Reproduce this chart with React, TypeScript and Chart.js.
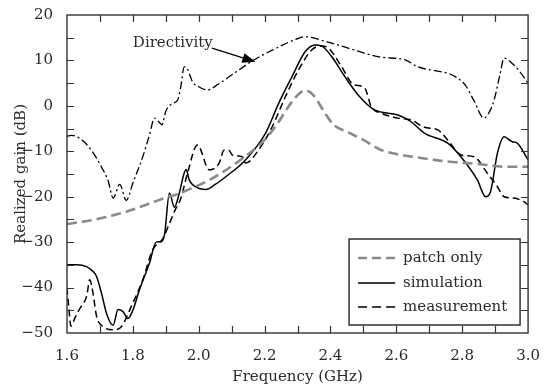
import React, { useEffect, useRef } from 'react';
import { Chart, registerables } from 'chart.js';

Chart.register(...registerables);

const FONT = '"DejaVu Serif", "Liberation Serif", serif';
const INK = '#2a2a2a';

// Directivity (dash-dot)
const dirFreq = [1.6, 1.614, 1.65, 1.68, 1.705, 1.725, 1.74, 1.76, 1.78, 1.8, 1.83, 1.85, 1.866, 1.88, 1.888, 1.9, 1.92, 1.936, 1.945, 1.956, 1.965, 1.981, 2.0, 2.026, 2.06, 2.1, 2.167, 2.23, 2.29, 2.323, 2.38, 2.454, 2.554, 2.625, 2.665, 2.72, 2.756, 2.786, 2.81, 2.836, 2.866, 2.885, 2.897, 2.915, 2.927, 2.957, 2.975, 3.0];
const dirGain = [-6.7, -6.5, -7.8, -10.4, -13.5, -16.5, -20.3, -17.3, -20.8, -17, -11.2, -6.5, -2.7, -3.6, -4.2, -1.2, 0.5, 1.3, 4, 8.6, 8.2, 5.3, 4.2, 3.5, 4.8, 6.8, 10.1, 12.5, 14.5, 15.2, 14.3, 12.7, 10.7, 10.2, 8.6, 7.7, 7.2, 6.1, 4.5, 1.1, -2.7, -1, 1.3, 7, 10.5, 9, 7.5, 5.0];

// Patch only (gray dashed)
const patchFreq = [1.6, 1.68, 1.78, 1.88, 1.94, 2.04, 2.14, 2.2, 2.24, 2.28, 2.31, 2.325, 2.35, 2.38, 2.41, 2.45, 2.5, 2.55, 2.6, 2.65, 2.75, 2.85, 2.93, 3.0];
const patchGain = [-26, -25.1, -23.3, -20.7, -19.3, -16, -11.2, -7.5, -3.8, 0.6, 3, 3.4, 2.2, -1.2, -4.2, -5.7, -7.5, -9.6, -10.6, -11.2, -12.2, -12.8, -13.4, -13.4];

// Simulation (solid)
const simFreq = [1.6, 1.63, 1.659, 1.68, 1.69, 1.705, 1.72, 1.74, 1.755, 1.77, 1.785, 1.8, 1.82, 1.85, 1.871, 1.886, 1.896, 1.911, 1.926, 1.941, 1.955, 1.962, 1.971, 1.99, 2.022, 2.05, 2.082, 2.142, 2.203, 2.243, 2.283, 2.323, 2.353, 2.373, 2.404, 2.444, 2.484, 2.534, 2.605, 2.645, 2.685, 2.756, 2.796, 2.846, 2.871, 2.886, 2.907, 2.927, 2.952, 2.967, 3.0];
const simGain = [-35, -35, -35.4, -36.5, -37.6, -41.3, -45.7, -48.3, -44.8, -45.3, -46.8, -45, -40.5, -34.7, -30, -29.9, -28.4, -19.2, -22.3, -19.2, -15, -14, -16.3, -17.8, -18.4, -17.3, -15.6, -11.9, -6, 0.6, 6.4, 11.9, 13.4, 13.2, 10.8, 6.4, 2.4, -0.9, -2.0, -3.5, -6, -8.2, -11.2, -16.3, -20, -18.9, -10.4, -6.8, -7.9, -8.2, -11.9];

// Measurement (black dashed)
const measFreq = [1.6, 1.605, 1.612, 1.625, 1.64, 1.66, 1.669, 1.679, 1.69, 1.71, 1.74, 1.765, 1.795, 1.83, 1.86, 1.891, 1.911, 1.931, 1.945, 1.966, 1.996, 2.032, 2.062, 2.077, 2.092, 2.102, 2.132, 2.142, 2.182, 2.223, 2.263, 2.303, 2.343, 2.373, 2.394, 2.434, 2.464, 2.474, 2.504, 2.524, 2.554, 2.605, 2.645, 2.685, 2.726, 2.756, 2.796, 2.836, 2.876, 2.907, 2.927, 2.957, 2.987, 3.0];
const measGain = [-40, -44, -48.5, -46.5, -44.5, -41.8, -38.3, -41.3, -46.4, -48.6, -49.3, -48.6, -44.2, -38.3, -31.7, -29.2, -25.9, -22.5, -20.5, -14.8, -8.6, -14.1, -12.6, -9.7, -9.8, -10.8, -11.2, -12.6, -9.7, -4.6, 2.0, 7.9, 12.3, 13.2, 12.7, 8.6, 5, 4.6, 3.9, -0.2, -1.6, -2.7, -3.1, -4.7, -5.3, -7.5, -10.8, -11.2, -14.8, -17.8, -20, -20.3, -21.1, -21.8];

// Axes
const X_MIN = 1.6, X_MAX = 3.0, X_LABEL_STEP = 0.2;
const Y_MIN = -50, Y_MAX = 20, Y_LABEL_STEP = 10;
const xTickMarks = [1.7, 1.8, 1.9, 2.0, 2.1, 2.2, 2.3, 2.4, 2.5, 2.6, 2.7, 2.8, 2.9];
const yTickMarks = [-45, -40, -35, -30, -25, -20, -15, -10, -5, 0, 5, 10, 15];

const seriesNames = ['patch only', 'simulation', 'measurement'];
const annotationText = 'Directivity';
const annotationAt = { x: 1.8, y: 13.8 };
const arrowFrom = { x: 2.04, y: 12.7 };
const arrowTo = { x: 2.172, y: 9.7 };

const zip = (xs: number[], ys: number[]) => xs.map((x, i) => ({ x, y: ys[i] }));

const STYLES = {
  patch: { color: '#8a8a8a', width: 2.6, dash: [10, 5] },
  sim: { color: '#000000', width: 1.5, dash: [] as number[] },
  meas: { color: '#000000', width: 1.5, dash: [7, 4] },
  dir: { color: '#000000', width: 1.3, dash: [8, 3, 2, 3] },
};

const overlayPlugin = {
  id: 'overlay',
  afterDraw(chart: any) {
    const { ctx, chartArea: a, scales } = chart;
    const xs = scales.x, ys = scales.y;
    ctx.save();
    // frame
    ctx.strokeStyle = '#333';
    ctx.lineWidth = 1.4;
    ctx.strokeRect(a.left, a.top, a.right - a.left, a.bottom - a.top);
    // inward ticks
    ctx.lineWidth = 1.2;
    const L = 7;
    ctx.beginPath();
    for (const f of xTickMarks) {
      const px = Math.round(xs.getPixelForValue(f)) + 0.5;
      ctx.moveTo(px, a.bottom); ctx.lineTo(px, a.bottom - L);
      ctx.moveTo(px, a.top); ctx.lineTo(px, a.top + L);
    }
    for (const g of yTickMarks) {
      const py = Math.round(ys.getPixelForValue(g)) + 0.5;
      ctx.moveTo(a.left, py); ctx.lineTo(a.left + L, py);
      ctx.moveTo(a.right, py); ctx.lineTo(a.right - L, py);
    }
    ctx.stroke();

    // annotation
    ctx.fillStyle = INK;
    ctx.font = `15px ${FONT}`;
    ctx.textAlign = 'left';
    ctx.textBaseline = 'middle';
    ctx.fillText(annotationText, xs.getPixelForValue(annotationAt.x), ys.getPixelForValue(annotationAt.y));
    const x0 = xs.getPixelForValue(arrowFrom.x), y0 = ys.getPixelForValue(arrowFrom.y);
    const x1 = xs.getPixelForValue(arrowTo.x), y1 = ys.getPixelForValue(arrowTo.y);
    const ang = Math.atan2(y1 - y0, x1 - x0);
    const hl = 13, hw = 5;
    const bx = x1 - hl * Math.cos(ang), by = y1 - hl * Math.sin(ang);
    ctx.strokeStyle = '#000';
    ctx.lineWidth = 1.3;
    ctx.beginPath();
    ctx.moveTo(x0, y0); ctx.lineTo(bx, by);
    ctx.stroke();
    ctx.fillStyle = '#000';
    ctx.beginPath();
    ctx.moveTo(x1, y1);
    ctx.lineTo(bx + hw * Math.sin(ang), by - hw * Math.cos(ang));
    ctx.lineTo(bx - hw * Math.sin(ang), by + hw * Math.cos(ang));
    ctx.closePath();
    ctx.fill();

    // legend
    const bl = a.right - 179, bt = a.bottom - 94, br = a.right - 8, bb = a.bottom - 8;
    ctx.fillStyle = '#fff';
    ctx.fillRect(bl, bt, br - bl, bb - bt);
    ctx.strokeStyle = '#222';
    ctx.lineWidth = 1.4;
    ctx.strokeRect(bl, bt, br - bl, bb - bt);
    const styles = [STYLES.patch, STYLES.sim, STYLES.meas];
    const rows = [19, 44, 68];
    seriesNames.forEach((name, i) => {
      const y = bt + rows[i];
      const s = styles[i];
      ctx.strokeStyle = s.color;
      ctx.lineWidth = s.width;
      ctx.setLineDash(s.dash.length ? [9, 5] : []);
      ctx.beginPath();
      ctx.moveTo(bl + 9, y); ctx.lineTo(bl + 46, y);
      ctx.stroke();
      ctx.setLineDash([]);
      ctx.fillStyle = INK;
      ctx.font = `15px ${FONT}`;
      ctx.textAlign = 'left';
      ctx.textBaseline = 'middle';
      ctx.fillText(name, bl + 54, y);
    });
    ctx.restore();
  },
};

export default function App() {
  const ref = useRef<HTMLCanvasElement | null>(null);
  useEffect(() => {
    if (!ref.current) return;
    const mk = (label: string, xs: number[], ys: number[], s: any) => ({
      label,
      data: zip(xs, ys),
      borderColor: s.color,
      borderWidth: s.width,
      borderDash: s.dash,
      pointRadius: 0,
      fill: false,
      cubicInterpolationMode: 'monotone' as const,
    });
    const chart = new Chart(ref.current, {
      type: 'line',
      data: {
        datasets: [
          mk('Directivity', dirFreq, dirGain, STYLES.dir),
          mk(seriesNames[0], patchFreq, patchGain, STYLES.patch),
          mk(seriesNames[2], measFreq, measGain, STYLES.meas),
          mk(seriesNames[1], simFreq, simGain, STYLES.sim),
        ],
      },
      options: {
        responsive: false,
        animation: false,
        layout: { padding: { top: 15, right: 15, left: 0, bottom: 0 } },
        plugins: { legend: { display: false }, tooltip: { enabled: false } },
        scales: {
          x: {
            type: 'linear',
            min: X_MIN,
            max: X_MAX,
            grid: { display: false },
            border: { display: false },
            ticks: {
              stepSize: X_LABEL_STEP,
              padding: 6,
              color: INK,
              maxRotation: 0,
              autoSkip: false,
              font: { family: FONT, size: 15 },
              callback: (v: any) => Number(v).toFixed(1),
            },
            title: {
              display: true,
              text: 'Frequency (GHz)',
              color: INK,
              font: { family: FONT, size: 15 },
              padding: { top: 0, bottom: 1 },
            },
            afterFit: (s: any) => { s.height = 54; },
          },
          y: {
            type: 'linear',
            min: Y_MIN,
            max: Y_MAX,
            grid: { display: false },
            border: { display: false },
            ticks: {
              stepSize: Y_LABEL_STEP,
              padding: 6,
              color: INK,
              font: { family: FONT, size: 15 },
              callback: (v: any) => (Number(v) < 0 ? '\u2212' + Math.abs(Number(v)) : String(v)),
            },
            title: {
              display: true,
              text: 'Realized gain (dB)',
              color: INK,
              font: { family: FONT, size: 15 },
              padding: { top: 12, bottom: 0 },
            },
            afterFit: (s: any) => { s.width = 67; },
          },
        },
      },
      plugins: [overlayPlugin],
    });
    return () => chart.destroy();
  }, []);
  return (
    <div style={{ position: 'fixed', left: 0, top: 0, width: 546, height: 387, background: '#fff' }}>
      <canvas ref={ref} width={546} height={387} style={{ display: 'block' }} />
    </div>
  );
}
